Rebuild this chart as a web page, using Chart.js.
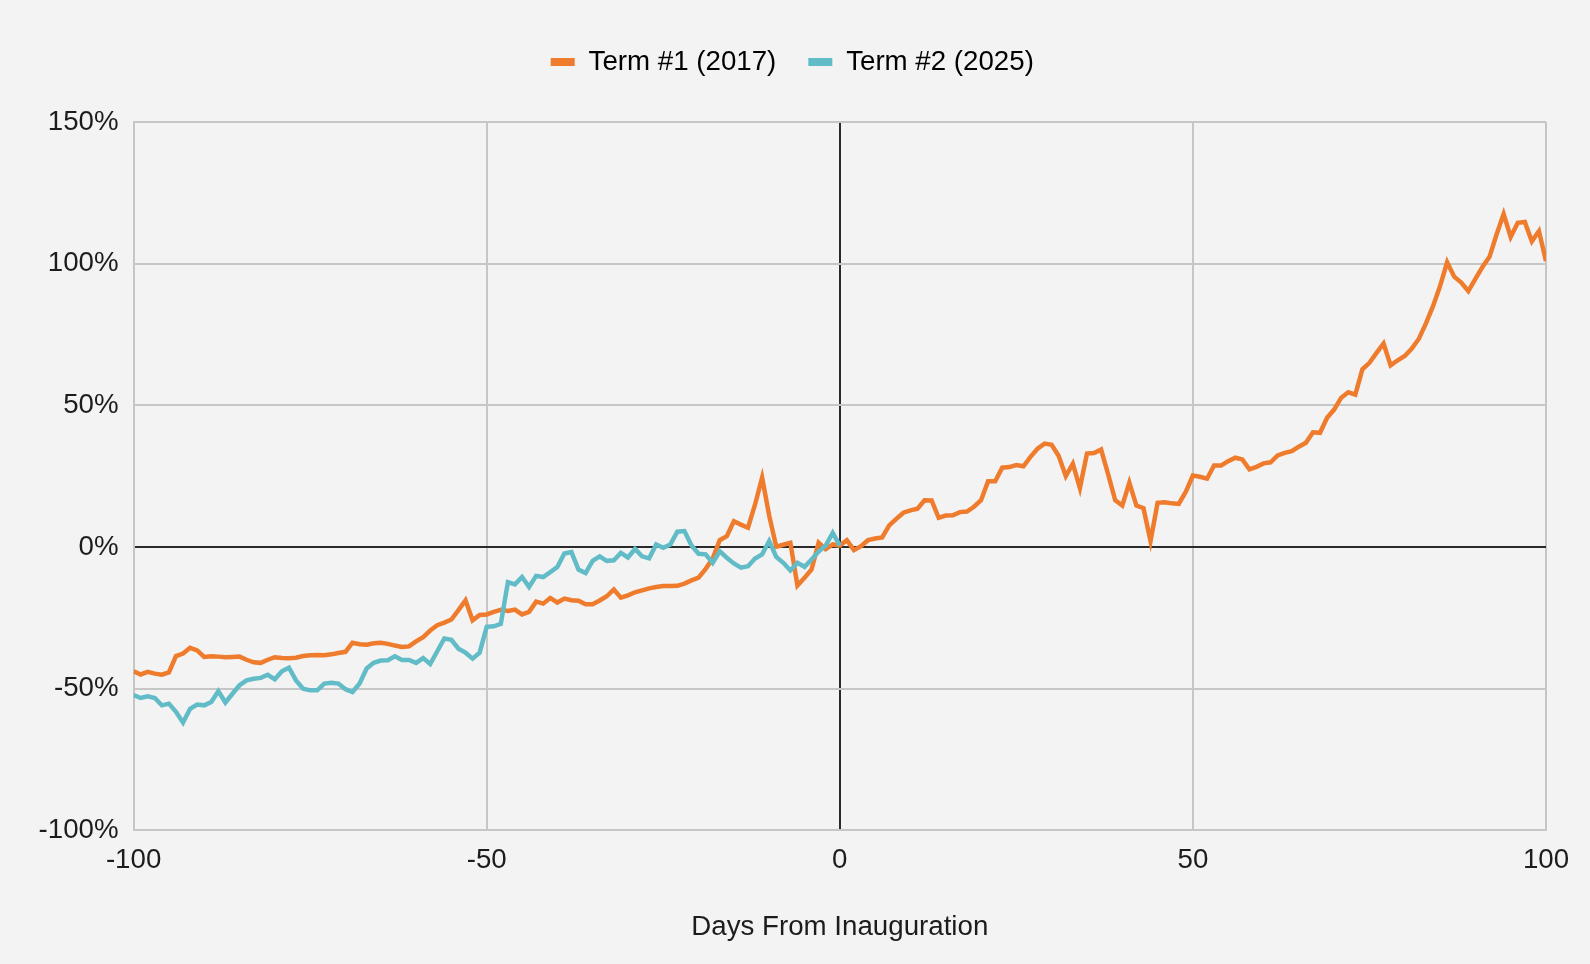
<!DOCTYPE html>
<html>
<head>
<meta charset="utf-8">
<script src="https://cdn.jsdelivr.net/npm/chart.js@4.4.1/dist/chart.umd.min.js"></script>
<style>
    html, body { margin: 0; padding: 0; background: #f3f3f3; }
    #wrap { width: 1590px; height: 964px; position: relative; }
</style>
</head>
<body>
<div id="wrap"><canvas id="chart"></canvas></div>
<script>
// 日数（就任日からの日数）
const firstDay = -100;
const xTicks = [-100, -50, 0, 50, 100];
const yTicks = [-100, -50, 0, 50, 100, 150];

// Term #1 (2017)  day -100 .. 100
const term1 = [
    -43.9, -45.0, -44.1, -44.7, -45.1, -44.3, -38.5, -37.6, -35.6, -36.5,
    -38.8, -38.6, -38.7, -38.9, -38.8, -38.7, -39.8, -40.7, -40.9, -39.8,
    -38.9, -39.2, -39.3, -39.1, -38.5, -38.2, -38.1, -38.2, -37.9, -37.4,
    -37.0, -33.8, -34.3, -34.5, -34.0, -33.8, -34.2, -34.8, -35.3, -35.1,
    -33.3, -31.8, -29.5, -27.6, -26.7, -25.6, -22.3, -18.8, -25.9, -24.0,
    -23.8, -22.9, -22.2, -22.6, -22.1, -23.8, -22.9, -19.3, -20.0, -18.0,
    -19.6, -18.2, -18.8, -19.0, -20.2, -20.2, -18.9, -17.4, -15.0, -17.9,
    -17.1, -16.0, -15.3, -14.6, -14.1, -13.8, -13.8, -13.7, -12.9, -11.8,
    -10.8, -7.7, -4.1, 2.4, 3.8, 9.1, 7.9, 6.8, 15.0, 24.5,
    11.1, 0.1, 0.8, 1.5, -13.6, -10.9, -7.9, 1.5, -0.8, 0.9,
    0.5,
    2.4, -1.1, 0.3, 2.4, 3.0, 3.4, 7.6, 9.9, 12.1, 12.9,
    13.5, 16.5, 16.4, 10.3, 11.1, 11.2, 12.3, 12.5, 14.2, 16.5,
    23.2, 23.2, 28.0, 28.2, 28.9, 28.5, 31.8, 34.7, 36.5, 36.1,
    32.1, 25.0, 29.4, 20.8, 33.0, 33.2, 34.4, 25.6, 16.5, 14.6,
    22.7, 14.6, 13.7, 2.1, 15.6, 15.8, 15.4, 15.2, 19.5, 25.2,
    24.8, 24.1, 28.8, 28.8, 30.3, 31.5, 30.9, 27.4, 28.3, 29.5,
    29.9, 32.3, 33.2, 33.8, 35.4, 36.8, 40.5, 40.3, 45.6, 48.5,
    52.7, 54.6, 53.8, 62.7, 65.0, 68.5, 71.8, 64.1, 65.9, 67.4,
    70.0, 73.5, 78.9, 85.0, 92.1, 100.5, 95.4, 93.3, 90.3, 94.6,
    98.8, 102.4, 110.3, 117.5, 109.4, 114.4, 114.7, 107.9, 111.5, 100.9
];

// Term #2 (2025)  day -100 .. 0
const term2 = [
    -52.3, -53.3, -52.7, -53.3, -55.9, -55.3, -58.2, -62.0, -57.1, -55.6,
    -55.9, -54.7, -50.9, -54.9, -51.8, -48.8, -47.1, -46.5, -46.2, -45.1,
    -46.7, -43.9, -42.6, -47.1, -50.0, -50.6, -50.6, -48.2, -47.9, -48.2,
    -50.2, -51.2, -48.2, -42.9, -40.9, -40.1, -40.0, -38.6, -39.9, -39.9,
    -40.9, -39.2, -41.3, -36.8, -32.3, -32.8, -35.9, -37.3, -39.4, -37.3,
    -28.2, -28.0, -27.1, -12.4, -13.2, -10.6, -14.1, -10.2, -10.6, -8.9,
    -7.1, -2.3, -1.8, -8.0, -9.2, -4.9, -3.3, -4.9, -4.7, -2.1,
    -3.7, -0.7, -3.3, -4.0, 0.9, -0.3, 0.9, 5.4, 5.6, 0.5,
    -2.4, -2.6, -5.6, -1.5, -3.8, -5.8, -7.3, -6.8, -4.1, -2.6,
    2.1, -3.5, -5.6, -8.3, -5.6, -7.0, -4.4, -1.6, 0.5, 5.0,
    0.5
];

const orange = '#ef7b2d';
const teal = '#62bcc7';
const gridGray = '#c6c6c6';
const zeroLine = '#2a2a2a';
const textColor = '#1c1c1c';
const fontFamily = '"Liberation Sans", Arial, sans-serif';
const fontSize = 27.7;

function toPoints(values) {
    return values.map((v, i) => ({ x: firstDay + i, y: v }));
}

// 凡例の下に余白を追加
const legendSpacer = {
    id: 'legendSpacer',
    beforeInit(chart) {
        const originalFit = chart.legend.fit;
        chart.legend.fit = function fit() {
            originalFit.bind(chart.legend)();
            this.height += 36.1;
        };
    }
};

const ctx = document.getElementById('chart');
new Chart(ctx, {
    type: 'line',
    data: {
        datasets: [
            {
                label: 'Term #1 (2017)',
                data: toPoints(term1),
                borderColor: orange,
                backgroundColor: orange,
                borderWidth: 4.5,
                pointRadius: 0,
                tension: 0,
                order: 1
            },
            {
                label: 'Term #2 (2025)',
                data: toPoints(term2),
                borderColor: teal,
                backgroundColor: teal,
                borderWidth: 4.5,
                pointRadius: 0,
                tension: 0,
                order: 0
            }
        ]
    },
    options: {
        responsive: true,
        maintainAspectRatio: false,
        animation: false,
        layout: {
            padding: { top: 16.2, left: 38.6, right: 44, bottom: 20.4 }
        },
        plugins: {
            legend: {
                position: 'top',
                labels: {
                    boxWidth: 24,
                    boxHeight: 8,
                    padding: 32,
                    color: textColor,
                    font: { family: fontFamily, size: fontSize },
                    sort: (a, b) => a.datasetIndex - b.datasetIndex,
                    generateLabels(chart) {
                        return chart.data.datasets.map((ds, i) => ({
                            text: ds.label,
                            fillStyle: ds.borderColor,
                            strokeStyle: ds.borderColor,
                            lineWidth: 0,
                            hidden: false,
                            datasetIndex: i
                        }));
                    }
                }
            },
            tooltip: { enabled: false }
        },
        scales: {
            x: {
                type: 'linear',
                min: -100,
                max: 100,
                afterBuildTicks(scale) {
                    scale.ticks = xTicks.map(v => ({ value: v }));
                },
                afterFit(scale) {
                    scale.height = 113.3;
                },
                ticks: {
                    padding: 13,
                    color: textColor,
                    font: { family: fontFamily, size: fontSize }
                },
                grid: {
                    drawTicks: false,
                    lineWidth: 2,
                    color: (c) => (c.tick && c.tick.value === 0 ? zeroLine : gridGray)
                },
                border: { color: gridGray, width: 2 },
                title: {
                    display: true,
                    text: 'Days From Inauguration',
                    color: textColor,
                    font: { family: fontFamily, size: fontSize },
                    padding: { top: 20, bottom: 0 }
                }
            },
            y: {
                min: -100,
                max: 150,
                afterBuildTicks(scale) {
                    scale.ticks = yTicks.map(v => ({ value: v }));
                },
                afterFit(scale) {
                    scale.width = 95;
                },
                ticks: {
                    padding: 15,
                    color: textColor,
                    font: { family: fontFamily, size: fontSize },
                    callback: (v) => v + '%'
                },
                grid: {
                    drawTicks: false,
                    lineWidth: 2,
                    color: (c) => (c.tick && c.tick.value === 0 ? zeroLine : gridGray)
                },
                border: { color: gridGray, width: 2 }
            }
        }
    },
    plugins: [legendSpacer]
});
</script>
</body>
</html>
